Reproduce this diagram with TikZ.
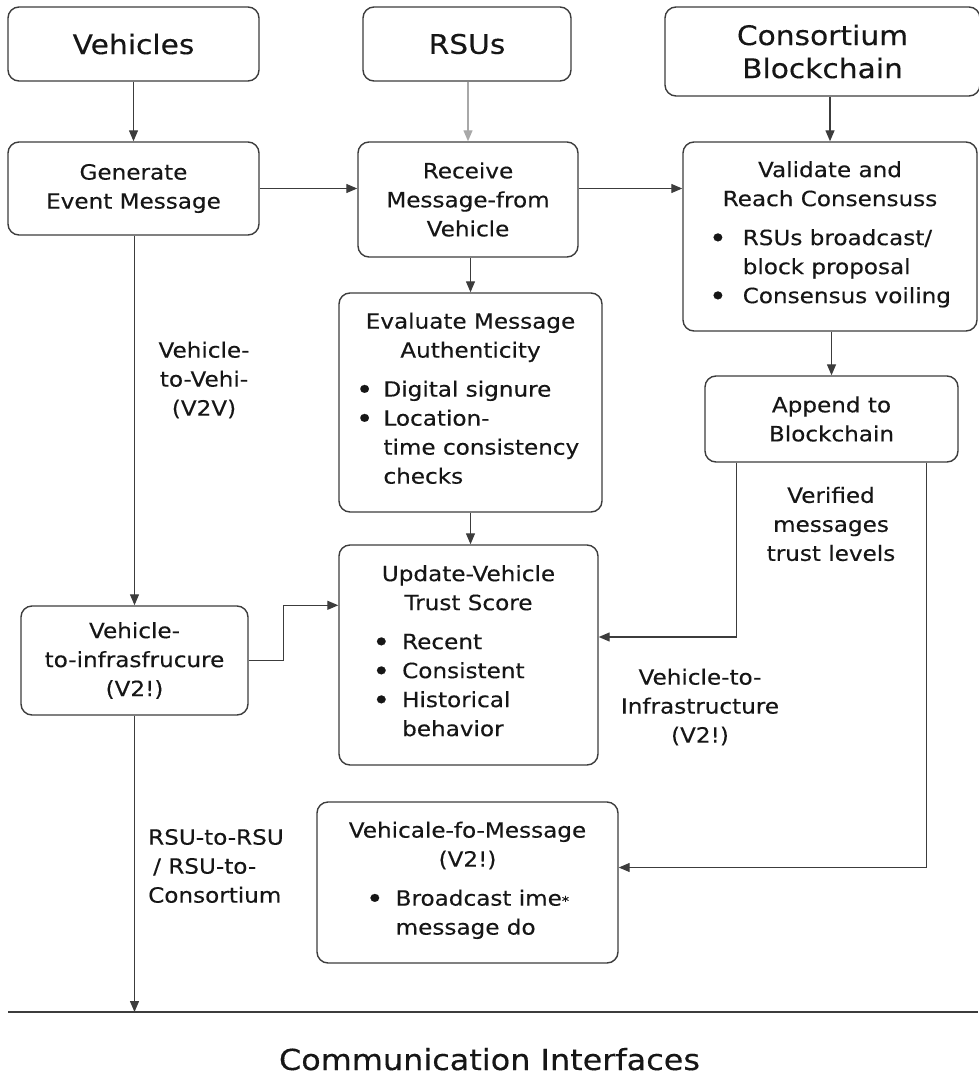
\documentclass[tikz,border=0pt]{standalone}
\usepackage{fontspec}
\newfontfamily\diagfont[FakeStretch=1.1,FakeBold=0.3]{DejaVu Sans}
\usetikzlibrary{arrows.meta,calc}
\definecolor{ink}{HTML}{161616}
\definecolor{edge}{HTML}{3C3C3C}
\definecolor{pale}{HTML}{A8A8A8}
\newcommand\bodyfont{\diagfont\fontsize{21}{29}\selectfont}
\newcommand\headfont{\diagfont\fontsize{27}{33}\selectfont}
\newcommand\itm{\raisebox{-2.4pt}{\scalebox{1.3}{\textbullet}}}

\begin{document}
\begin{tikzpicture}[x=1pt,y=-1pt,
  box/.style={draw=edge,line width=1.4pt,rounded corners=11pt,align=center,text=ink,font=\bodyfont,inner sep=0pt},
  head/.style={box,font=\headfont},
  flow/.style={draw=edge,line width=1.3pt,-{Triangle[length=11pt,width=9pt]}},
  note/.style={text=ink,font=\bodyfont,inner sep=0pt}]
\useasboundingbox (0,0) rectangle (978,1076);

\node[head,minimum width=251,minimum height=74] (veh) at (133.5,44) {Vehicles};
\node[head,minimum width=208,minimum height=74] (rsu) at (467,44) {RSUs};
\node[head,minimum width=315,minimum height=89] (cons) at (822.5,51.5) {Consortium\\Blockchain};

\node[box,minimum width=251,minimum height=93] (gen) at (133.5,188.5) {Generate\\Event Message};
\node[box,minimum width=220,minimum height=115] (recv) at (468,199.5) {Receive\\Message-from\\Vehicle};
\node[box,minimum width=294,minimum height=189] (valid) at (830,236.5) {Validate and\\Reach Consensuss\\[10pt]
  \begin{tabular}[t]{@{}c@{\hspace{16pt}}l@{}}\itm & RSUs broadcast/\\ & block proposal\\ \itm & Consensus voiling\end{tabular}};
\node[box,minimum width=263,minimum height=219] (eval) at (470.5,402.5) {Evaluate Message\\Authenticity\\[10pt]
  \begin{tabular}[t]{@{}c@{\hspace{10pt}}l@{\hspace{6pt}}}\itm & Digital signure\\ \itm & Location-\\ & time consistency\\ & checks\end{tabular}};
\node[box,minimum width=253,minimum height=86] (append) at (831.5,419) {Append to\\Blockchain};
\node[box,minimum width=259,minimum height=220] (upd) at (468.5,655) {Update-Vehicle\\Trust Score\\[10pt]
  \begin{tabular}[t]{@{}c@{\hspace{12pt}}l@{\hspace{40pt}}}\itm & Recent\\ \itm & Consistent\\ \itm & Historical\\ & behavior\end{tabular}};
\node[box,minimum width=227,minimum height=109] (v2i) at (134.5,660.5) {Vehicle-\\to-infrasfrucure\\(V2!)};
\node[box,minimum width=301,minimum height=161] (vmsg) at (467.5,882.5) {Vehicale-fo-Message\\(V2!)\\[10pt]
  \begin{tabular}[t]{@{}c@{\hspace{12pt}}l@{}}\itm & Broadcast ime{\fontsize{13}{13}\selectfont*}\\ & message do\end{tabular}};

\node[note,align=center] (v2v) at (204,380) {Vehicle-\\to-Vehi-\\(V2V)};
\node[note,align=center] (trust) at (831,524) {Verified\\messages\\trust levels};
\node[note,align=center] (v2inote) at (700,707) {Vehicle-to-\\Infrastructure\\(V2!)};
\node[note,align=left,anchor=west] (r2r) at (148,866) {RSU-to-RSU\\\hspace{5pt}/ RSU-to-\\Consortium};
\node[text=ink,font={\diagfont\fontsize{29}{34}\selectfont},anchor=base,inner sep=0pt] (iface) at (489.5,1070) {Communication Interfaces};

\coordinate (lnL) at (8,1012);
\coordinate (lnR) at (978,1012);
\draw[draw=edge,line width=1.3pt] (lnL) -- (lnR);

\draw[flow] (veh) -- (gen);
\draw[flow,draw=pale] (rsu.south -| recv.north) -- (recv.north);
\draw[flow] (cons.south -| valid.north) -- (valid.north);
\draw[flow] (gen.east) -- (gen.east -| recv.west);
\draw[flow] (gen.east -| recv.east) -- (gen.east -| valid.west);
\draw[flow] (recv.south -| eval.north) -- (eval.north);
\draw[flow] (eval.south) -- (eval.south |- upd.north);
\draw[flow] (valid.south -| append.north) -- (append.north);
\draw[flow] (gen.south -| v2i.north) -- (v2i.north);
\draw[flow] (v2i.east) -- ++(35,0) |- (v2i.north -| upd.west);
\draw[flow] ([xshift=32pt]append.south west) |- ([yshift=18pt]upd.east);
\draw[flow] ([xshift=-32pt]append.south east) |- ([yshift=15pt]vmsg.east);
\draw[flow] (v2i.south) -- (v2i.south |- lnL);
\end{tikzpicture}
\end{document}
